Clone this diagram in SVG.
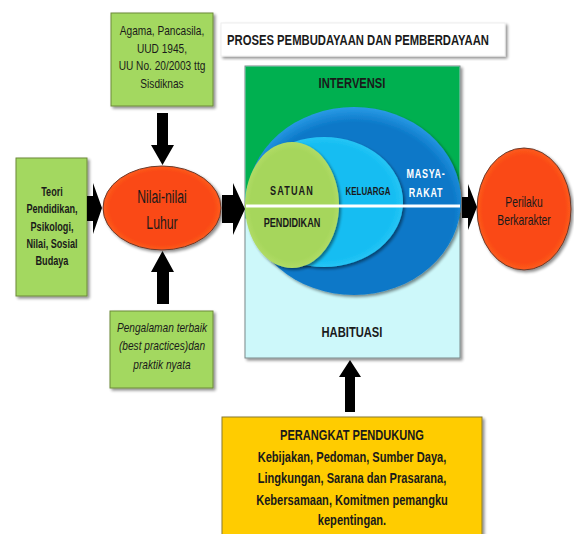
<svg xmlns="http://www.w3.org/2000/svg" width="574" height="534" viewBox="0 0 574 534">
<defs>
<filter id="sh" x="-10%" y="-10%" width="125%" height="125%">
<feGaussianBlur in="SourceAlpha" stdDeviation="1.5"/>
<feOffset dx="1.5" dy="2" result="b"/>
<feComponentTransfer><feFuncA type="linear" slope="0.45"/></feComponentTransfer>
<feMerge><feMergeNode/><feMergeNode in="SourceGraphic"/></feMerge>
</filter>
<radialGradient id="gBlue" cx="50%" cy="55%" r="55%">
<stop offset="0.85" stop-color="#0B78C8"/>
<stop offset="1" stop-color="#2A9BE6"/>
</radialGradient>
<radialGradient id="gCyan" cx="50%" cy="50%" r="55%">
<stop offset="0.8" stop-color="#14BDF2"/>
<stop offset="1" stop-color="#35CCF8"/>
</radialGradient>
<radialGradient id="gLime" cx="50%" cy="50%" r="55%">
<stop offset="0.8" stop-color="#A6D65B"/>
<stop offset="1" stop-color="#B8E070"/>
</radialGradient>
<radialGradient id="gRed" cx="50%" cy="50%" r="55%">
<stop offset="0.8" stop-color="#FA4A12"/>
<stop offset="1" stop-color="#FF6A2A"/>
</radialGradient>
<style>
.t{font-family:"Liberation Sans",Arial,sans-serif;text-anchor:middle;fill:#1a1a1a;}
.b{font-weight:bold;}
.w{fill:#fff;}
.lime{fill:#A3D860;stroke:#6d8a3a;stroke-width:1;}
.arr{fill:#000;}
</style>
</defs>
<rect width="574" height="534" fill="#fff"/>

<g id="title">
<rect x="221" y="23" width="284" height="33" fill="#fff" stroke="#eee" stroke-width="1" filter="url(#sh)"/>
<text class="t b" x="358" y="45" font-size="14" textLength="262" lengthAdjust="spacingAndGlyphs">PROSES PEMBUDAYAAN DAN PEMBERDAYAAN</text>
</g>

<g id="sumber">
<rect class="lime" x="111" y="13" width="102" height="93" filter="url(#sh)"/>
<text class="t" font-size="13" transform="matrix(0.78 0 0 1 35.64 0)"><tspan x="162" y="35">Agama, Pancasila,</tspan><tspan x="162" y="53">UUD 1945,</tspan><tspan x="162" y="70">UU No. 20/2003 ttg</tspan><tspan x="162" y="88">Sisdiknas</tspan></text>
</g>

<g id="teori">
<rect class="lime" x="16" y="158" width="71" height="138" filter="url(#sh)"/>
<text class="t b" font-size="12" transform="matrix(0.76 0 0 1 12.48 0)"><tspan x="52" y="196">Teori</tspan><tspan x="52" y="213">Pendidikan,</tspan><tspan x="52" y="231">Psikologi,</tspan><tspan x="52" y="248">Nilai, Sosial</tspan><tspan x="52" y="265">Budaya</tspan></text>
</g>

<g id="nilai">
<ellipse cx="162" cy="208" rx="59" ry="42" fill="url(#gRed)" stroke="#6b3a2a" stroke-width="1" filter="url(#sh)"/>
<text class="t" font-size="18" transform="matrix(0.68 0 0 1 51.84 0)"><tspan x="162" y="203">Nilai-nilai</tspan><tspan x="162" y="229">Luhur</tspan></text>
</g>

<g id="pengalaman">
<rect class="lime" x="110" y="311" width="103" height="77" filter="url(#sh)"/>
<text class="t" font-size="13" font-style="italic" transform="matrix(0.78 0 0 1 35.64 0)"><tspan x="162" y="332">Pengalaman terbaik</tspan><tspan x="162" y="350">(best practices)dan</tspan><tspan x="162" y="369">praktik nyata</tspan></text>
</g>

<g id="proses">
<rect x="245" y="66" width="215" height="292" fill="#CDF8FA" stroke="#7a8a8a" stroke-width="1" filter="url(#sh)"/>
<rect x="245.5" y="66.5" width="214" height="152" fill="#00B050"/>
<text class="t b" x="352" y="88" font-size="14" transform="matrix(0.8 0 0 1 70.4 0)">INTERVENSI</text>
<text class="t b" x="352" y="337" font-size="14" transform="matrix(0.8 0 0 1 70.4 0)">HABITUASI</text>
</g>

<g id="masyarakat">
<ellipse cx="354" cy="201" rx="107" ry="94" fill="url(#gBlue)" filter="url(#sh)"/>
<text class="t b w" font-size="12" transform="matrix(0.75 0 0 1 106.5 0)" letter-spacing="1"><tspan x="426" y="178">MASYA-</tspan><tspan x="426" y="197">RAKAT</tspan></text>
</g>

<g id="keluarga">
<ellipse cx="324" cy="202" rx="79" ry="65" fill="url(#gCyan)" filter="url(#sh)"/>
<text class="t b" x="368" y="195" font-size="11" transform="matrix(0.72 0 0 1 103.04 0)">KELUARGA</text>
</g>

<g id="satuan">
<ellipse cx="292" cy="205" rx="47" ry="63" fill="url(#gLime)" filter="url(#sh)"/>
<text class="t b" x="292" y="195" font-size="12" letter-spacing="1.5" transform="matrix(0.76 0 0 1 70.08 0)">SATUAN</text>
<text class="t b" x="292" y="227" font-size="12" transform="matrix(0.76 0 0 1 70.08 0)">PENDIDIKAN</text>
</g>

<line x1="246" y1="206" x2="460" y2="206" stroke="#fff" stroke-width="3"/>

<g id="perilaku">
<ellipse cx="524" cy="209" rx="47" ry="61" fill="url(#gRed)" stroke="#6b3a2a" stroke-width="1" filter="url(#sh)"/>
<text class="t" font-size="14" transform="matrix(0.74 0 0 1 136.24 0)"><tspan x="524" y="207">Perilaku</tspan><tspan x="524" y="225">Berkarakter</tspan></text>
</g>

<g id="pendukung">
<rect x="222" y="417" width="260" height="125" fill="#FFCC00" stroke="#8a7a30" stroke-width="1" filter="url(#sh)"/>
<text class="t b" font-size="15" transform="matrix(0.74 0 0 1 91.52 0)"><tspan x="352" y="440">PERANGKAT PENDUKUNG</tspan><tspan x="352" y="462">Kebijakan, Pedoman, Sumber Daya,</tspan><tspan x="352" y="483">Lingkungan, Sarana dan Prasarana,</tspan><tspan x="352" y="505">Kebersamaan, Komitmen pemangku</tspan><tspan x="352" y="525">kepentingan.</tspan></text>
</g>

<g id="connectors" class="arr">
<polygon points="157,113 168,113 168,145 174,145 162.5,165 151,145 157,145"/>
<polygon points="157,304 169,304 169,272 174,272 162.5,251 151,272 157,272"/>
<polygon points="87,196 93,196 93,183 102,208 93,234 93,221 87,221"/>
<polygon points="222,195 233,195 233,183 245,209 233,235 233,223 222,223"/>
<polygon points="462,197 468,197 468,184 477,207 468,230 468,218 462,218"/>
<polygon points="345,412 355,412 355,377 361,377 350,360 339,377 345,377"/>
</g>
</svg>
